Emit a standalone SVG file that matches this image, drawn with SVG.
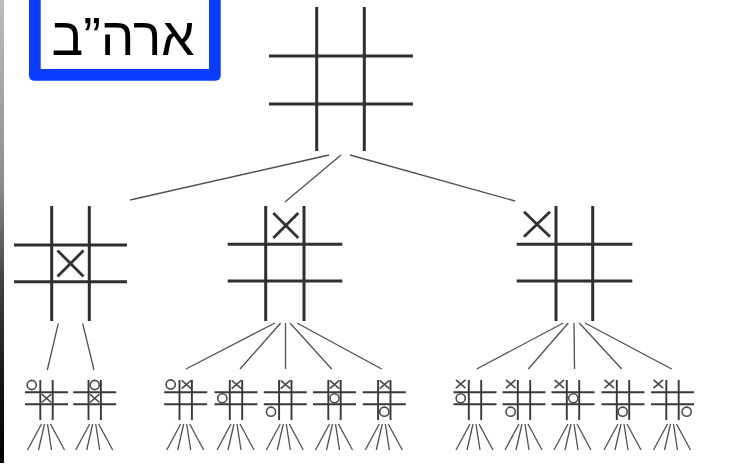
<svg xmlns="http://www.w3.org/2000/svg" xmlns:xlink="http://www.w3.org/1999/xlink" width="751" height="467" viewBox="0 0 751 467">
  <style>
    .big { stroke: #2f2f2f; stroke-width: 3; fill: none; stroke-linecap: butt; }
    .mark { stroke: #333; stroke-width: 2.8; fill: none; }
    .small { stroke: #383838; stroke-width: 1.9; fill: none; }
    .smark { stroke: #4a4a4a; stroke-width: 1.6; fill: none; }
    .conn { stroke: #505050; stroke-width: 1.3; fill: none; }
    .label { font-family: "Liberation Sans", "DejaVu Sans", sans-serif; font-size: 53px; fill: #000; }
  </style>
  <defs>
    <linearGradient id="edge" x1="0" y1="0" x2="0" y2="1">
      <stop offset="0" stop-color="#bdbdbd"/>
      <stop offset="0.4" stop-color="#8c8c8c"/>
      <stop offset="0.6" stop-color="#444"/>
      <stop offset="0.8" stop-color="#1a1a1a"/>
      <stop offset="1" stop-color="#000"/>
    </linearGradient>
    <g id="sgrid" class="small">
      <line x1="-6.2" y1="380" x2="-6.2" y2="420"/>
      <line x1="6.2" y1="380" x2="6.2" y2="420"/>
      <line x1="-21.5" y1="392.3" x2="21.5" y2="392.3"/>
      <line x1="-21.5" y1="404.3" x2="21.5" y2="404.3"/>
    </g>
    <g id="fan" class="conn">
      <line x1="-5" y1="424" x2="-19" y2="450"/>
      <line x1="-2" y1="424" x2="-8" y2="450"/>
      <line x1="1" y1="424" x2="5" y2="450"/>
      <line x1="4" y1="424" x2="18" y2="450"/>
    </g>
    <g id="sx" class="smark">
      <line x1="-4.8" y1="-4.2" x2="4.8" y2="4.2"/>
      <line x1="4.8" y1="-4.2" x2="-4.8" y2="4.2"/>
    </g>
    <circle id="so" class="smark" r="4.6"/>
  </defs>

  <rect width="751" height="467" fill="#fff"/>
  <rect x="0" y="0" width="4" height="463" fill="url(#edge)"/>

  <g id="label">
    <rect x="29" y="-14" width="191.7" height="94.7" rx="5" fill="#0a3cfc"/>
    <rect x="40.7" y="-2" width="168.3" height="71" fill="#fff"/>
    <text class="label" x="123" y="55" text-anchor="middle">ארה”ב</text>
  </g>

  <g id="connectors">
    <line class="conn" x1="329" y1="155" x2="130" y2="200"/>
    <line class="conn" x1="341" y1="155" x2="285" y2="202"/>
    <line class="conn" x1="350" y1="155" x2="515" y2="201"/>

    <line class="conn" x1="58.3" y1="323.3" x2="47.3" y2="370"/>
    <line class="conn" x1="82.7" y1="323.3" x2="94" y2="370"/>

    <line class="conn" x1="275" y1="323" x2="186" y2="369"/>
    <line class="conn" x1="280.7" y1="323" x2="240" y2="369"/>
    <line class="conn" x1="285.5" y1="323" x2="285.5" y2="369"/>
    <line class="conn" x1="290" y1="323" x2="331.7" y2="369"/>
    <line class="conn" x1="297" y1="323" x2="381.7" y2="369"/>

    <line class="conn" x1="563.3" y1="323" x2="476.7" y2="369"/>
    <line class="conn" x1="568.3" y1="323" x2="528.3" y2="369"/>
    <line class="conn" x1="574" y1="323" x2="574.5" y2="369"/>
    <line class="conn" x1="579.3" y1="323" x2="621.7" y2="369"/>
    <line class="conn" x1="585" y1="323" x2="671.7" y2="369"/>

    <use xlink:href="#fan" x="46.5"/>
    <use xlink:href="#fan" x="94.7"/>
    <use xlink:href="#fan" x="185.7"/>
    <use xlink:href="#fan" x="236"/>
    <use xlink:href="#fan" x="285.3"/>
    <use xlink:href="#fan" x="334.5"/>
    <use xlink:href="#fan" x="384.3"/>
    <use xlink:href="#fan" x="475"/>
    <use xlink:href="#fan" x="524"/>
    <use xlink:href="#fan" x="573"/>
    <use xlink:href="#fan" x="623"/>
    <use xlink:href="#fan" x="672.5"/>
  </g>

  <g id="root" class="big">
    <line x1="316.7" y1="7" x2="316.7" y2="151"/>
    <line x1="364.3" y1="7" x2="364.3" y2="151"/>
    <line x1="269" y1="56" x2="413" y2="56"/>
    <line x1="269" y1="104" x2="413" y2="104"/>
  </g>

  <g id="node-left" class="big">
    <line x1="51.7" y1="206" x2="51.7" y2="321"/>
    <line x1="89.3" y1="206" x2="89.3" y2="321"/>
    <line x1="14" y1="245" x2="127" y2="245"/>
    <line x1="14" y1="281.7" x2="127" y2="281.7"/>
    <line class="mark" x1="57.5" y1="250.5" x2="83.5" y2="276.5"/>
    <line class="mark" x1="83.5" y1="250.5" x2="57.5" y2="276.5"/>
  </g>

  <g id="node-middle" class="big">
    <line x1="265.7" y1="206" x2="265.7" y2="321"/>
    <line x1="304" y1="206" x2="304" y2="321"/>
    <line x1="227.7" y1="244.3" x2="342.3" y2="244.3"/>
    <line x1="227.7" y1="281" x2="342.3" y2="281"/>
    <line class="mark" x1="273.3" y1="213" x2="298.3" y2="238"/>
    <line class="mark" x1="298.3" y1="213" x2="273.3" y2="238"/>
  </g>

  <g id="node-right" class="big">
    <line x1="556" y1="206" x2="556" y2="321"/>
    <line x1="592.7" y1="206" x2="592.7" y2="321"/>
    <line x1="516.7" y1="244.3" x2="632.3" y2="244.3"/>
    <line x1="516.7" y1="281" x2="632.3" y2="281"/>
    <line class="mark" x1="524" y1="211.7" x2="550" y2="236.7"/>
    <line class="mark" x1="550" y1="211.7" x2="524" y2="236.7"/>
  </g>

  <g id="leaf-1">
    <use xlink:href="#sgrid" x="46.5"/>
    <use xlink:href="#so" x="31.7" y="385"/>
    <use xlink:href="#sx" x="46.5" y="398.3"/>
  </g>
  <g id="leaf-2">
    <use xlink:href="#sgrid" x="94.7"/>
    <use xlink:href="#so" x="94.7" y="385"/>
    <use xlink:href="#sx" x="94.7" y="398.3"/>
  </g>

  <g id="leaf-3">
    <use xlink:href="#sgrid" x="185.7"/>
    <use xlink:href="#so" x="170.7" y="384.5"/>
    <use xlink:href="#sx" x="186.5" y="384.5"/>
  </g>
  <g id="leaf-4">
    <use xlink:href="#sgrid" x="236"/>
    <use xlink:href="#sx" x="236.5" y="384.5"/>
    <use xlink:href="#so" x="222.3" y="398.3"/>
  </g>
  <g id="leaf-5">
    <use xlink:href="#sgrid" x="285.3"/>
    <use xlink:href="#sx" x="285.5" y="384.5"/>
    <use xlink:href="#so" x="271" y="411.7"/>
  </g>
  <g id="leaf-6">
    <use xlink:href="#sgrid" x="334.5"/>
    <use xlink:href="#sx" x="334.5" y="384.5"/>
    <use xlink:href="#so" x="334.5" y="398.3"/>
  </g>
  <g id="leaf-7">
    <use xlink:href="#sgrid" x="384.3"/>
    <use xlink:href="#sx" x="384.5" y="384.5"/>
    <use xlink:href="#so" x="384.3" y="411.7"/>
  </g>

  <g id="leaf-8">
    <use xlink:href="#sgrid" x="475"/>
    <use xlink:href="#sx" x="460.7" y="384"/>
    <use xlink:href="#so" x="460.7" y="398.3"/>
  </g>
  <g id="leaf-9">
    <use xlink:href="#sgrid" x="524"/>
    <use xlink:href="#sx" x="510.7" y="384"/>
    <use xlink:href="#so" x="510.7" y="411.7"/>
  </g>
  <g id="leaf-10">
    <use xlink:href="#sgrid" x="573"/>
    <use xlink:href="#sx" x="559.3" y="384"/>
    <use xlink:href="#so" x="573.3" y="398.3"/>
  </g>
  <g id="leaf-11">
    <use xlink:href="#sgrid" x="623"/>
    <use xlink:href="#sx" x="609.3" y="384"/>
    <use xlink:href="#so" x="622.7" y="411.7"/>
  </g>
  <g id="leaf-12">
    <use xlink:href="#sgrid" x="672.5"/>
    <use xlink:href="#sx" x="658.3" y="384"/>
    <use xlink:href="#so" x="686.7" y="411.7"/>
  </g>
</svg>
